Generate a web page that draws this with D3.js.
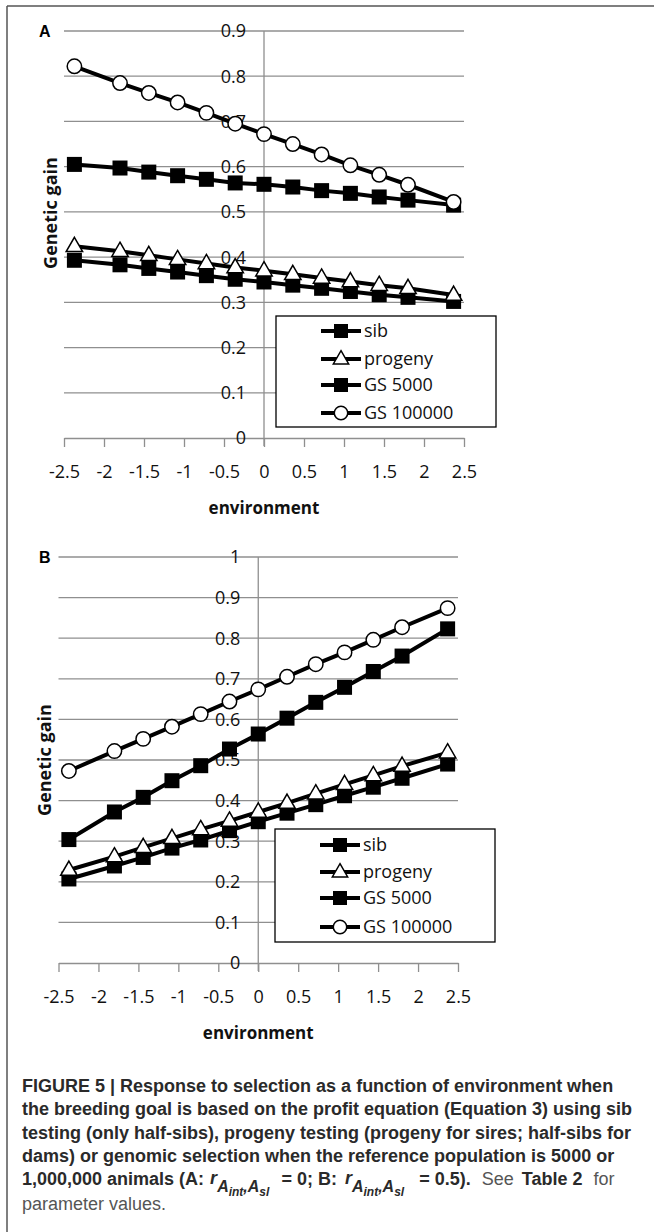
<!DOCTYPE html>
<html>
<head>
<meta charset="utf-8">
<script src="https://cdn.jsdelivr.net/npm/d3@7"></script>
<style>
  body { margin: 0; background: #fff; }
  svg text { font-family: "Open Sans", sans-serif; }
  .cap { font-family: "Liberation Sans", Arial, sans-serif !important; }
</style>
</head>
<body>
<div id="fig"></div>
<script>
    // environment values (x) shared by both panels
    const env = [-2.37, -1.8, -1.44, -1.08, -0.72, -0.36, 0, 0.36, 0.72, 1.08, 1.44, 1.8, 2.37]
    const xTicks = [-2.5, -2, -1.5, -1, -0.5, 0, 0.5, 1, 1.5, 2, 2.5]
    const seriesNames = ["sib", "progeny", "GS 5000", "GS 100000"]
    const seriesMarkers = ["square", "triangle", "square", "circle"]

    // panel A
    const aSib      = [0.393, 0.383, 0.375, 0.367, 0.359, 0.351, 0.345, 0.338, 0.331, 0.324, 0.317, 0.311, 0.302]
    const aProgeny  = [0.424, 0.413, 0.404, 0.395, 0.386, 0.377, 0.370, 0.362, 0.354, 0.346, 0.338, 0.331, 0.316]
    const aGs5000   = [0.605, 0.597, 0.588, 0.580, 0.572, 0.564, 0.561, 0.555, 0.547, 0.541, 0.533, 0.526, 0.515]
    const aGs100000 = [0.822, 0.785, 0.763, 0.742, 0.719, 0.695, 0.672, 0.650, 0.627, 0.603, 0.582, 0.560, 0.522]
    const aYTicks   = [0, 0.1, 0.2, 0.3, 0.4, 0.5, 0.6, 0.7, 0.8, 0.9]

    // panel B
    const bSib      = [0.207, 0.239, 0.260, 0.283, 0.303, 0.326, 0.348, 0.369, 0.390, 0.412, 0.433, 0.455, 0.490]
    const bProgeny  = [0.229, 0.262, 0.285, 0.307, 0.329, 0.350, 0.372, 0.394, 0.417, 0.440, 0.462, 0.485, 0.518]
    const bGs5000   = [0.304, 0.372, 0.408, 0.449, 0.486, 0.527, 0.564, 0.603, 0.642, 0.679, 0.718, 0.756, 0.823]
    const bGs100000 = [0.473, 0.522, 0.552, 0.582, 0.613, 0.644, 0.674, 0.705, 0.736, 0.765, 0.796, 0.827, 0.874]
    const bYTicks   = [0, 0.1, 0.2, 0.3, 0.4, 0.5, 0.6, 0.7, 0.8, 0.9, 1]

    const gridColor = "#8f8f8f"

    const svg = d3.select("#fig")
        .append("svg")
        .attr("width", 654)
        .attr("height", 1232)

    // frame (left + top edges only)
    svg.append("line").attr("x1", 7).attr("y1", 6).attr("x2", 7).attr("y2", 1232)
        .style("stroke", "#555").style("stroke-width", 1.5)
    svg.append("line").attr("x1", 7).attr("y1", 6).attr("x2", 654).attr("y2", 6)
        .style("stroke", "#555").style("stroke-width", 1.5)

    function drawMarker(g, kind, x, y, size)
    {
        if (kind === "circle") {
            g.append("circle").attr("cx", x).attr("cy", y).attr("r", size * 0.48)
                .style("fill", "white").style("stroke", "black").style("stroke-width", 1.5)
        } else if (kind === "square") {
            g.append("rect").attr("x", x - size / 2).attr("y", y - size / 2)
                .attr("width", size).attr("height", size)
                .style("fill", "black")
        } else {
            const tri = d3.symbol().type(d3.symbolTriangle).size(size * size * 0.52)
            g.append("path").attr("d", tri()).attr("transform", "translate(" + x + "," + (y + 0.5) + ")")
                .style("fill", "white").style("stroke", "black").style("stroke-width", 1.5)
        }
    }

    function drawPanel(p)
    {
        const g = svg.append("g")
        const x = d3.scaleLinear().domain([-2.5, 2.5]).range([p.left, p.right])
        const y = d3.scaleLinear().domain([0, p.yMax]).range([p.bottom, p.top])

        // gridlines
        g.selectAll(".grid").data(p.yTicks.filter(d => d > 0)).enter()
            .append("line")
            .attr("x1", p.left).attr("x2", p.right)
            .attr("y1", d => y(d)).attr("y2", d => y(d))
            .style("stroke", gridColor).style("stroke-width", 1.3)

        // y axis at x = 0
        g.append("line").attr("x1", x(0)).attr("x2", x(0)).attr("y1", y(p.yMax)).attr("y2", p.bottom + 8)
            .style("stroke", gridColor).style("stroke-width", 1.3)

        // x axis with ticks below
        const xAxis = g.append("g").attr("transform", "translate(0," + p.bottom + ")")
            .call(d3.axisBottom(x).tickValues(xTicks).tickSize(9).tickSizeOuter(0).tickFormat(d3.format("")))
        xAxis.select(".domain").style("stroke", gridColor).style("stroke-width", 1.3)
        xAxis.selectAll(".tick line").style("stroke", gridColor).style("stroke-width", 1.3)
        xAxis.selectAll(".tick text")
            .attr("y", 34).attr("dy", "0.35em")
            .style("font-family", "Open Sans").style("font-size", "18px").style("fill", "#111")
            .text(d => d === 0 ? "0" : d3.format("")(d).replace("\u2212", "-"))

        // y tick labels just left of the y axis
        g.selectAll(".ylab").data(p.yTicks).enter()
            .append("text")
            .attr("x", x(0) - 18).attr("y", d => y(d)).attr("dy", "0.36em")
            .attr("text-anchor", "end")
            .style("font-size", "18px").style("fill", "#111")
            .text(d => d)

        // series lines then markers
        const line = d3.line().x((d, i) => x(env[i])).y(d => y(d))
        p.series.forEach((s, k) => {
            g.append("path").attr("d", line(s))
                .style("fill", "none").style("stroke", "black").style("stroke-width", 4)
            s.forEach((v, i) => drawMarker(g, seriesMarkers[k], x(env[i]), y(v), 15))
        })

        // legend
        const lg = g.append("g")
        lg.append("rect").attr("x", p.legX).attr("y", p.legY).attr("width", 220).attr("height", p.legH)
            .style("fill", "white").style("stroke", "black").style("stroke-width", 1.3)
        seriesNames.forEach((name, k) => {
            const ly = p.legY + p.legRows[k]
            lg.append("line").attr("x1", p.legX + 45).attr("x2", p.legX + 85).attr("y1", ly).attr("y2", ly)
                .style("stroke", "black").style("stroke-width", 4)
            drawMarker(lg, seriesMarkers[k], p.legX + 65, ly, 14)
            lg.append("text").attr("x", p.legX + 88).attr("y", ly).attr("dy", "0.36em")
                .style("font-size", "18px").style("fill", "#111")
                .text(name)
        })

        // titles
        g.append("text").attr("x", x(0)).attr("y", p.bottom + 70).attr("dy", "0.35em")
            .attr("text-anchor", "middle")
            .style("font-size", "17px").style("font-weight", "bold").style("fill", "#111")
            .text("environment")
        g.append("text").attr("transform", "translate(" + p.yLabX + "," + p.yLabY + ") rotate(-90)")
            .attr("text-anchor", "middle").attr("dy", "0.35em")
            .style("font-size", "18px").style("font-weight", "bold").style("fill", "#111")
            .text("Genetic gain")
        g.append("text").attr("x", 39).attr("y", p.top).attr("dy", "0.36em")
            .style("font-family", "Liberation Sans").style("font-size", "16px").style("font-weight", "bold")
            .text(p.letter)
    }

    drawPanel({
        letter: "A", left: 64, right: 464, top: 31, bottom: 438, yMax: 0.9, yTicks: aYTicks,
        series: [aSib, aProgeny, aGs5000, aGs100000],
        legX: 276, legY: 316, legH: 111, legRows: [15, 43, 69, 97],
        yLabX: 51, yLabY: 213
    })

    drawPanel({
        letter: "B", left: 58.5, right: 458, top: 557, bottom: 963, yMax: 1, yTicks: bYTicks,
        series: [bSib, bProgeny, bGs5000, bGs100000],
        legX: 275, legY: 829, legH: 113, legRows: [16, 43, 69, 98],
        yLabX: 45, yLabY: 760
    })

    // caption
    const cap = svg.append("g").attr("class", "cap")
        .style("font-size", "18px").style("fill", "#2a2a2a")
    const capLines = [
        "FIGURE 5 | Response to selection as a function of environment when",
        "the breeding goal is based on the profit equation (Equation 3) using sib",
        "testing (only half-sibs), progeny testing (progeny for sires; half-sibs for",
        "dams) or genomic selection when the reference population is 5000 or"
    ]
    capLines.forEach((t, i) => {
        cap.append("text").attr("class", "cap").attr("x", 22).attr("y", 1092 + i * 23.4)
            .style("font-weight", "bold").text(t)
    })

    // line 5 with the correlation symbols
    const l5 = cap.append("text").attr("class", "cap").attr("x", 22).attr("y", 1185).style("font-weight", "bold")
    l5.append("tspan").text("1,000,000 animals (A: ")
    function corr(t, gap)
    {
        t.append("tspan").attr("dx", gap).attr("dy", -1).style("font-style", "italic").text("r")
        t.append("tspan").attr("dy", 8).style("font-style", "italic").style("font-size", "16px").text("A")
        t.append("tspan").attr("dy", 4).style("font-style", "italic").style("font-size", "12px").text("int")
        t.append("tspan").attr("dy", -4).style("font-style", "italic").style("font-size", "16px").text(",A")
        t.append("tspan").attr("dy", 4).style("font-style", "italic").style("font-size", "12px").text("sl")
        t.append("tspan").attr("dy", -11).text(" ")
    }
    corr(l5, 1)
    l5.append("tspan").attr("dx", 7).text("= 0; B: ")
    corr(l5, 3)
    l5.append("tspan").attr("dx", 10).text("=  0.5).")
    l5.append("tspan").attr("dx", 6).style("font-weight", "normal").style("fill", "#555").text(" See ")
    l5.append("tspan").attr("dx", 3).text("Table 2")
    l5.append("tspan").attr("dx", 6).style("font-weight", "normal").style("fill", "#555").text(" for")

    cap.append("text").attr("class", "cap").attr("x", 22).attr("y", 1210)
        .style("fill", "#555").text("parameter values.")
</script>
</body>
</html>
